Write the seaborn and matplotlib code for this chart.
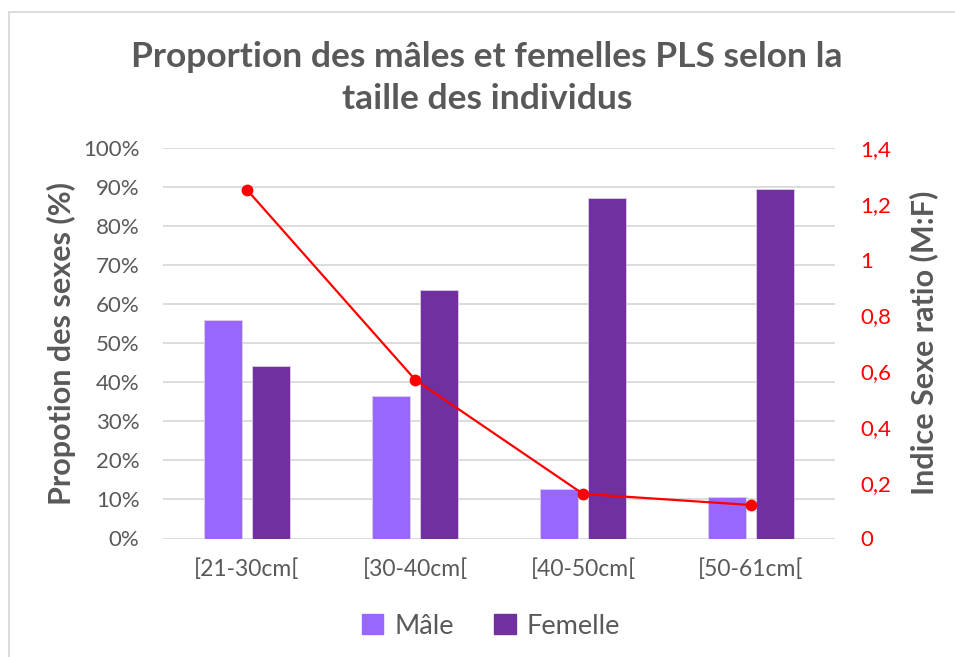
import matplotlib
matplotlib.use("Agg")
import matplotlib.pyplot as plt
import seaborn as sns
import pandas as pd
from matplotlib.patches import Patch
from matplotlib.lines import Line2D

categories = ["[21-30cm[", "[30-40cm[", "[40-50cm[", "[50-61cm["]
male_pct = [55.9, 36.4, 12.7, 10.6]
female_pct = [44.2, 63.6, 87.2, 89.4]
sex_ratio = [1.25, 0.57, 0.16, 0.12]
left_ticks = [0, 10, 20, 30, 40, 50, 60, 70, 80, 90, 100]
right_ticks = [0, 0.2, 0.4, 0.6, 0.8, 1.0, 1.2, 1.4]
right_labels = ["0", "0,2", "0,4", "0,6", "0,8", "1", "1,2", "1,4"]

GRAY = "#595959"
C_M = "#9966FF"
C_F = "#7030A0"

sns.set_style("white")
plt.rcParams["font.family"] = ["Lato", "DejaVu Sans"]

df = pd.DataFrame({
    "Taille": categories * 2,
    "Sexe": ["Mâle"] * 4 + ["Femelle"] * 4,
    "Pct": male_pct + female_pct,
})
df_ratio = pd.DataFrame({"Taille": categories, "Ratio": sex_ratio})

L, R, B, T = 163, 835, 538.5, 148
fig = plt.figure(figsize=(9.55, 6.57), dpi=100)
ax = fig.add_axes([L / 955, 1 - B / 657, (R - L) / 955, (B - T) / 657])

sns.barplot(data=df, x="Taille", y="Pct", hue="Sexe", order=categories,
            hue_order=["Mâle", "Femelle"], palette=[C_M, C_F], saturation=1,
            width=0.571, gap=0.209, ax=ax, legend=False,
            edgecolor="#D9D0E8", linewidth=0.6)
ax.set_ylim(0, 100)
ax.set_xlim(-0.5, 3.5)
ax.set_yticks(left_ticks)
ax.set_yticklabels([f"{t}%" for t in left_ticks])
ax.yaxis.grid(True, color="#D9D9D9", linewidth=1.3)
ax.set_axisbelow(True)
for s in ax.spines.values():
    s.set_visible(False)
ax.tick_params(axis="y", length=0, labelsize=16, colors=GRAY, pad=17)
ax.tick_params(axis="x", length=0, labelsize=16.5, colors=GRAY, pad=14)
ax.set_xlabel("")
ax.set_ylabel("Propotion des sexes (%)", fontsize=22, fontweight="bold", color=GRAY)
ax.yaxis.set_label_coords((76 - L) / (R - L), 0.5)

ax2 = ax.twinx()
sns.lineplot(data=df_ratio, x="Taille", y="Ratio", sort=False, ax=ax2, color="#FF0000",
             linewidth=1.6, marker="o", markersize=8.5, markeredgewidth=0)
ax2.set_ylim(0, 1.4)
ax2.set_xlim(-0.5, 3.5)
ax2.set_yticks(right_ticks)
ax2.set_yticklabels(right_labels)
for s in ax2.spines.values():
    s.set_visible(False)
ax2.tick_params(axis="y", length=0, labelsize=16, colors="#FF0000", pad=18)
ax2.set_ylabel("Indice Sexe ratio (M:F)", fontsize=22, fontweight="bold", color=GRAY)
ax2.yaxis.set_label_coords((909 - L) / (R - L), 0.5)
ax2.grid(False)

fig.text(487 / 955, 1 - 78 / 657, "Proportion des mâles et femelles PLS selon la\ntaille des individus",
         ha="center", va="center", fontsize=25.5, fontweight="bold", color=GRAY, linespacing=1.35)

handles = [Patch(facecolor=C_M, edgecolor=C_M), Patch(facecolor=C_F, edgecolor=C_F)]
fig.legend(handles, ["Mâle", "Femelle"], loc="center", bbox_to_anchor=(491 / 955, 1 - 626 / 657),
           ncol=2, frameon=False, fontsize=19.5, labelcolor=GRAY, handlelength=0.8, handleheight=0.8,
           handletextpad=0.4, columnspacing=1.5)

fig.add_artist(Line2D([9 / 955, 9 / 955], [0, 1 - 12 / 657], transform=fig.transFigure,
                      color="#D9D9D9", linewidth=1.3))
fig.add_artist(Line2D([9 / 955, 1], [1 - 12 / 657, 1 - 12 / 657], transform=fig.transFigure,
                      color="#D9D9D9", linewidth=1.3))

fig.savefig("out.png", dpi=100)
